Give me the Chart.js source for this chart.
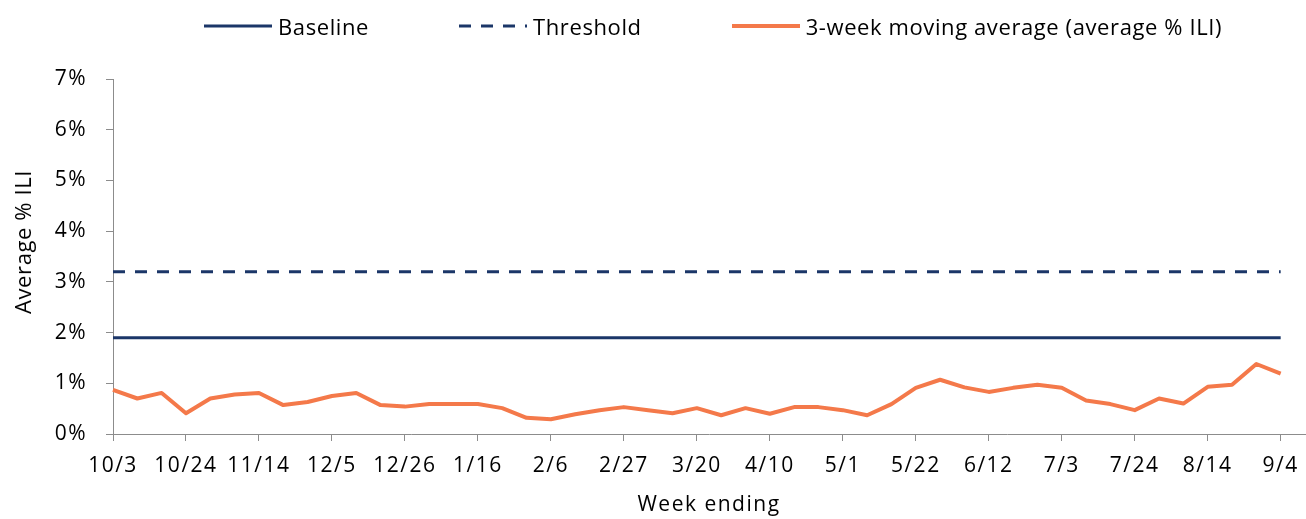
<!DOCTYPE html>
<html>
<head>
<meta charset="utf-8">
<script src="https://cdn.jsdelivr.net/npm/chart.js@4.4.1/dist/chart.umd.min.js"></script>
<style>
    html, body { margin: 0; padding: 0; background: #fff; }
    #wrap { width: 1306px; height: 519px; position: relative; }
    #legend {
        position: absolute;
        left: 204px;
        top: 12px;
        height: 28px;
        display: flex;
        align-items: center;
        gap: 90px;
        font-family: "Open Sans", sans-serif;
        font-size: 22px;
        line-height: 28px;
        letter-spacing: 0.6px;
        color: #000;
        white-space: nowrap;
    }
    #legend .item { display: flex; align-items: center; gap: 6px; }
    #legend svg { display: block; }
    #yTitle {
        position: absolute;
        left: 22px;
        top: 242px;
        transform: translate(-50%, -50%) rotate(-90deg);
        font-family: "Open Sans", sans-serif;
        font-size: 22px;
        letter-spacing: 0.6px;
        color: #000;
        white-space: nowrap;
    }
</style>
</head>
<body>
<div id="wrap">
    <canvas id="chartIli"></canvas>
    <div id="legend"></div>
    <div id="yTitle">Average % ILI</div>
</div>
<script>
// week ending dates (last one has no value, it just closes the axis)
const weeks = [
    "10/3", "10/10", "10/17", "10/24", "10/31", "11/7", "11/14", "11/21",
    "11/28", "12/5", "12/12", "12/19", "12/26", "1/2", "1/9", "1/16",
    "1/23", "1/30", "2/6", "2/13", "2/20", "2/27", "3/6", "3/13",
    "3/20", "3/27", "4/3", "4/10", "4/17", "4/24", "5/1", "5/8",
    "5/15", "5/22", "5/29", "6/5", "6/12", "6/19", "6/26", "7/3",
    "7/10", "7/17", "7/24", "7/31", "8/7", "8/14", "8/21", "8/28",
    "9/4", "9/11",
];

// 3-week moving average, % ILI
const movingAvg = [
    0.87, 0.7, 0.81, 0.41, 0.7, 0.78, 0.81, 0.57, 0.63, 0.75, 0.81, 0.57,
    0.54, 0.59, 0.59, 0.59, 0.51, 0.32, 0.29, 0.39, 0.47, 0.53, 0.47, 0.41,
    0.51, 0.37, 0.51, 0.4, 0.53, 0.53, 0.47, 0.37, 0.59, 0.91, 1.07, 0.92,
    0.83, 0.91, 0.97, 0.91, 0.66, 0.59, 0.47, 0.7, 0.6, 0.93, 0.97, 1.38,
    1.19,
];

const baselineValue = 1.9;
const thresholdValue = 3.2;

const yTicks = [0, 1, 2, 3, 4, 5, 6, 7];

const navy = "#1B3668";
const orange = "#F4794A";
const axisGrey = "#8C8C8C";

// flat reference lines only run as far as the weekly data
const baselineData = weeks.map((w, i) => (i < movingAvg.length ? baselineValue : null));
const thresholdData = weeks.map((w, i) => (i < movingAvg.length ? thresholdValue : null));

Chart.defaults.font.family = "'Open Sans', sans-serif";
Chart.defaults.font.size = 21;
Chart.defaults.color = "#000";

// the original uses a wide font, so space the canvas text out a little
const textSpacing = {
    id: "textSpacing",
    beforeLayout(chart) {
        chart.ctx.letterSpacing = "1.5px";
    },
    beforeDraw(chart) {
        chart.ctx.letterSpacing = "1.5px";
    },
};

// legend drawn in html so the items can sit where the original has them
const htmlLegend = {
    id: "htmlLegend",
    afterUpdate(chart) {
        const box = document.getElementById("legend");
        box.innerHTML = "";
        chart.data.datasets.forEach((ds) => {
            const item = document.createElement("div");
            item.className = "item";
            const dash = ds.borderDash ? ds.borderDash.join(" ") : "none";
            item.innerHTML =
                '<svg width="68" height="8"><line x1="0" y1="4" x2="68" y2="4" stroke="' +
                ds.borderColor + '" stroke-width="' + ds.borderWidth +
                '" stroke-dasharray="' + dash + '"/></svg>';
            const txt = document.createElement("span");
            txt.textContent = ds.label;
            item.appendChild(txt);
            box.appendChild(item);
        });
    },
};

document.addEventListener("DOMContentLoaded", function () {
    const ctx = document.getElementById("chartIli");
    new Chart(ctx, {
        type: "line",
        data: {
            labels: weeks,
            datasets: [
                {
                    label: "Baseline",
                    data: baselineData,
                    borderColor: navy,
                    backgroundColor: navy,
                    borderWidth: 3,
                    pointRadius: 0,
                    fill: false,
                },
                {
                    label: "Threshold",
                    data: thresholdData,
                    borderColor: navy,
                    backgroundColor: navy,
                    borderWidth: 3,
                    borderDash: [12, 10],
                    pointRadius: 0,
                    fill: false,
                },
                {
                    label: "3-week moving average (average % ILI)",
                    data: movingAvg,
                    borderColor: orange,
                    backgroundColor: orange,
                    borderWidth: 4,
                    borderJoinStyle: "round",
                    pointRadius: 0,
                    tension: 0,
                    fill: false,
                },
            ],
        },
        options: {
            responsive: true,
            maintainAspectRatio: false,
            animation: false,
            layout: {
                padding: { top: 79, left: 9, right: 1, bottom: 0 },
            },
            scales: {
                x: {
                    offset: false,
                    afterFit: (scale) => {
                        scale.height = 85;
                        // last category has no label, don't reserve room for it
                        scale.paddingLeft = 0;
                        scale.paddingRight = 0;
                    },
                    border: { display: true, color: axisGrey, width: 1 },
                    grid: {
                        drawOnChartArea: false,
                        drawTicks: true,
                        tickLength: 7,
                        color: axisGrey,
                    },
                    ticks: {
                        autoSkip: false,
                        maxRotation: 0,
                        padding: 12,
                        callback: function (value, index) {
                            return index % 3 === 0 ? weeks[index] : null;
                        },
                    },
                    title: {
                        display: true,
                        text: "Week ending",
                        padding: { top: 0, bottom: 1 },
                    },
                },
                y: {
                    min: 0,
                    max: 7,
                    afterFit: (scale) => {
                        scale.width = 104;
                    },
                    afterBuildTicks: (scale) => {
                        scale.ticks = yTicks.map((v) => ({ value: v }));
                    },
                    border: { display: true, color: axisGrey, width: 1 },
                    grid: {
                        drawOnChartArea: false,
                        drawTicks: true,
                        tickLength: 7,
                        color: axisGrey,
                    },
                    ticks: {
                        padding: 19,
                        callback: (value) => value + "%",
                    },
                },
            },
            plugins: {
                legend: { display: false },
                tooltip: { enabled: false },
            },
        },
        plugins: [textSpacing, htmlLegend],
    });
});
</script>
</body>
</html>
